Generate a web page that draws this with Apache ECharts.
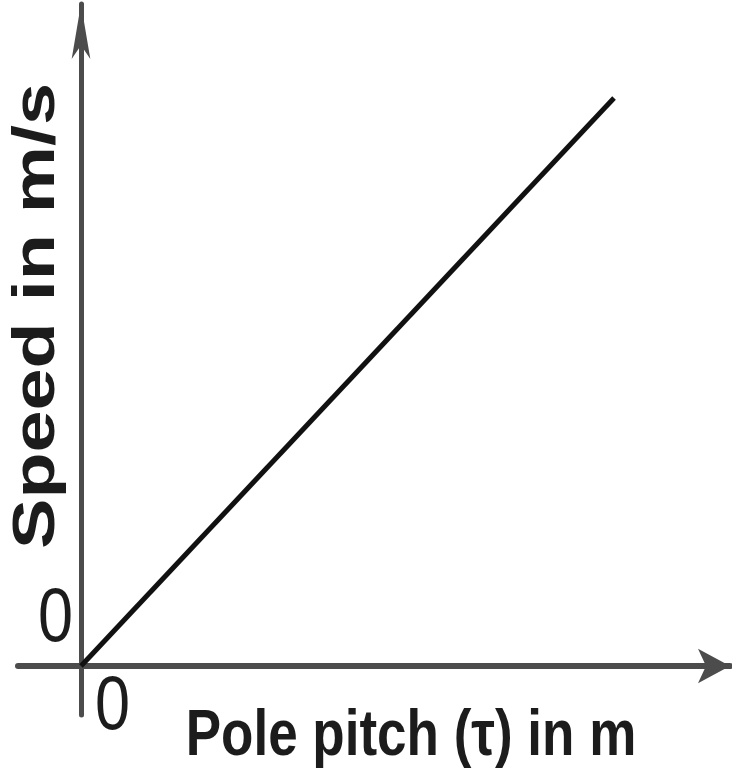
<!DOCTYPE html>
<html>
<head>
<meta charset="utf-8">
<script src="https://cdn.jsdelivr.net/npm/echarts@6/dist/echarts.min.js"></script>
<style>
  html, body { margin: 0; padding: 0; background: #fff; }
  #chart { width: 732px; height: 777px; }
</style>
</head>
<body>
<div id="chart"></div>
<script>
// Speed grows linearly with pole pitch (v = 2·τ·f)
const polePitch = [0, 10];
const speed = [0, 10];

// Axis labels and titles
const xTickLabels = [0];
const yTickLabels = [0];
const xTitle = 'Pole pitch (τ) in m';
const yTitle = 'Speed in m/s';

const FONT = '"Liberation Sans", Arial, sans-serif';
const AXIS_COLOR = '#4c4c4c';
const TEXT_COLOR = '#1c1c1c';
// the lettering is drawn tall and narrow
const STRETCH = 1.22;

const chart = echarts.init(document.getElementById('chart'), null, { renderer: 'canvas' });

chart.setOption({
  backgroundColor: '#ffffff',
  animation: false,
  grid: { left: 18, right: 2, top: 4, bottom: 62, outerBoundsMode: 'none', containLabel: false },
  xAxis: {
    type: 'value',
    min: -1.182,
    max: 12.176,
    splitLine: { show: false },
    axisTick: { show: false },
    axisLabel: { show: false },
    axisLine: {
      onZero: true,
      lineStyle: { color: AXIS_COLOR, width: 6 },
      symbol: ['none', 'arrow'],
      symbolSize: [26, 32]
    }
  },
  yAxis: {
    type: 'value',
    min: -0.863,
    max: 11.655,
    splitLine: { show: false },
    axisTick: { show: false },
    axisLabel: { show: false },
    axisLine: {
      onZero: true,
      lineStyle: { color: AXIS_COLOR, width: 5 },
      symbol: ['none', 'arrow'],
      symbolSize: [14, 55]
    }
  },
  series: [{
    type: 'line',
    data: polePitch.map((x, i) => [x, speed[i]]),
    symbol: 'none',
    lineStyle: { color: '#111111', width: 5 }
  }]
});

// Place the "0" labels and the axis titles relative to the origin of the axes
const origin = chart.convertToPixel({ gridIndex: 0 }, [0, 0]);
const ox = origin[0], oy = origin[1];

const labelGraphics = [
  {
    type: 'text',
    x: ox - 8,
    y: oy - 46,
    scaleY: STRETCH,
    style: {
      text: String(yTickLabels[0]),
      font: '63px ' + FONT,
      fill: TEXT_COLOR,
      align: 'right',
      verticalAlign: 'middle'
    }
  },
  {
    type: 'text',
    x: ox + 14,
    y: oy + 42,
    scaleY: STRETCH,
    style: {
      text: String(xTickLabels[0]),
      font: '63px ' + FONT,
      fill: TEXT_COLOR,
      align: 'left',
      verticalAlign: 'middle'
    }
  },
  {
    type: 'text',
    x: 411,
    y: 737,
    scaleY: STRETCH,
    style: {
      text: xTitle,
      font: 'bold 53px ' + FONT,
      fill: TEXT_COLOR,
      align: 'center',
      verticalAlign: 'middle'
    }
  },
  {
    type: 'text',
    x: 38,
    y: 316,
    rotation: Math.PI / 2,
    scaleX: 1.28,
    style: {
      text: yTitle,
      font: 'bold 59px ' + FONT,
      fill: TEXT_COLOR,
      align: 'center',
      verticalAlign: 'middle'
    }
  }
];

chart.setOption({ graphic: labelGraphics });
</script>
</body>
</html>
